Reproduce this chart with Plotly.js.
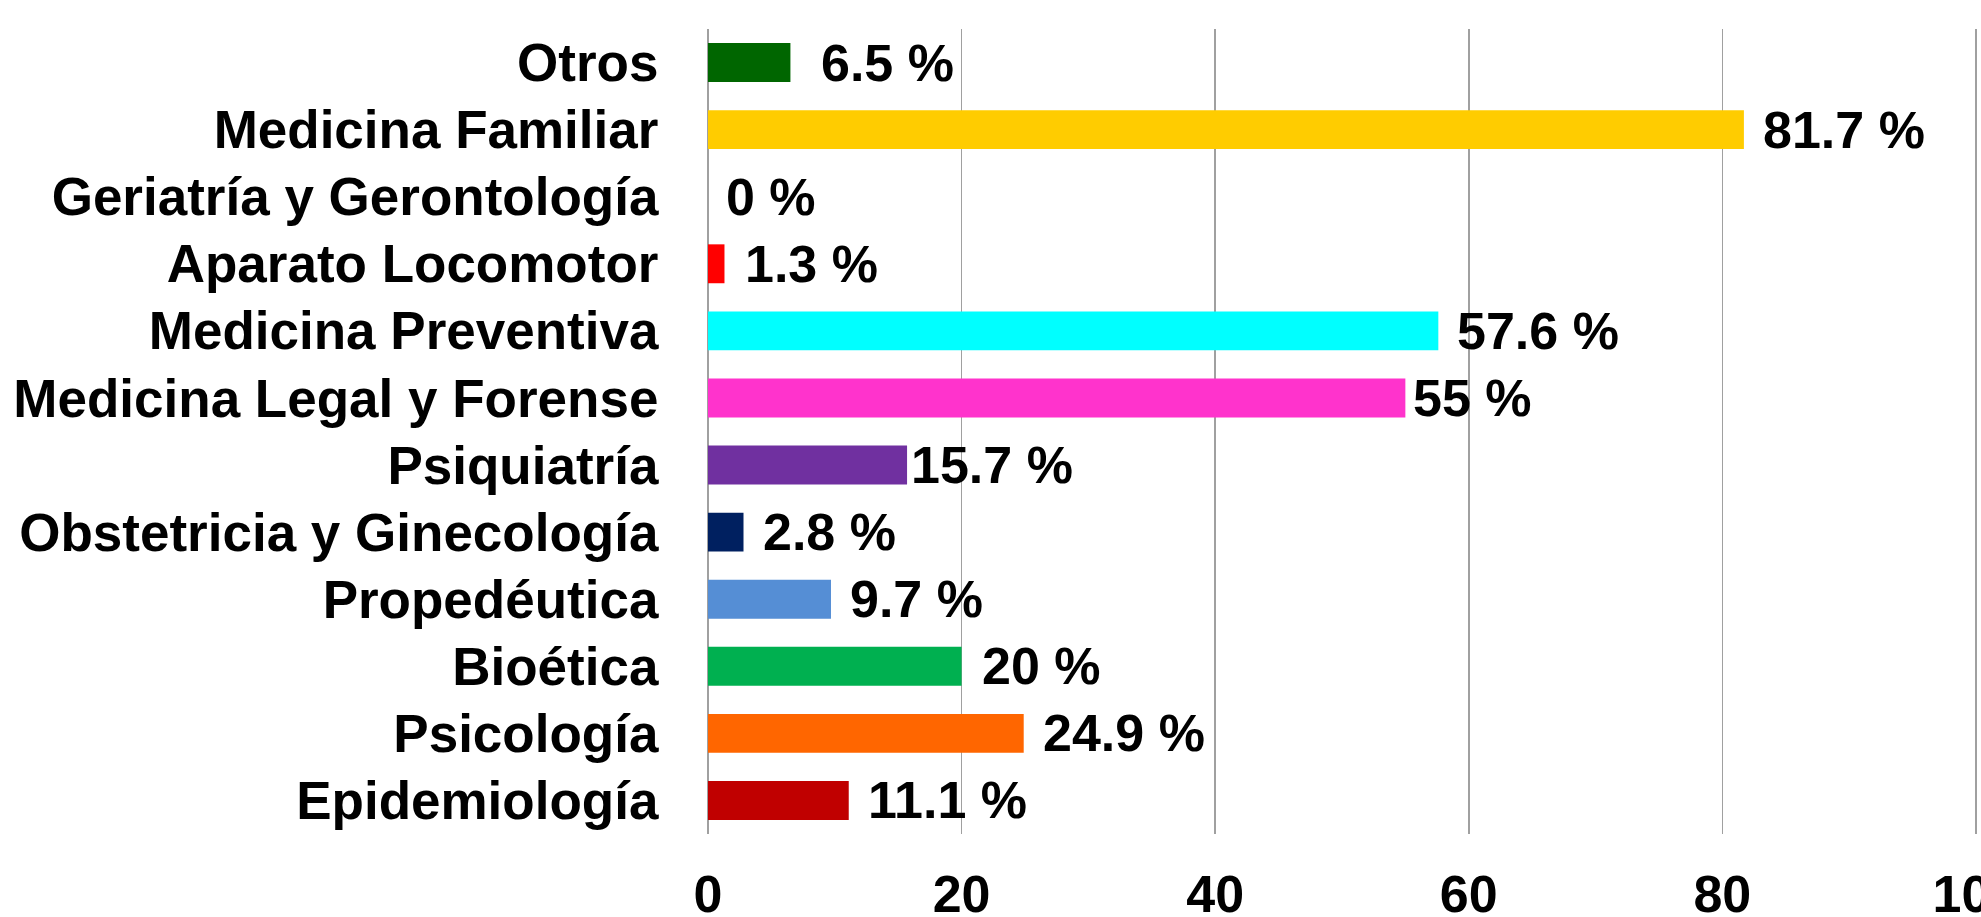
<!DOCTYPE html>
<html>
<head>
<meta charset="utf-8">
<script src="https://cdn.plot.ly/plotly-3.0.1.min.js"></script>
<style>html,body{margin:0;padding:0;background:#fff;}#chart{width:1981px;height:917px;}</style>
</head>
<body>
<div id="chart"></div>
<script>
// Categories listed bottom to top
const categories = [
  "Epidemiología",
  "Psicología",
  "Bioética",
  "Propedéutica",
  "Obstetricia y Ginecología",
  "Psiquiatría",
  "Medicina Legal y Forense",
  "Medicina Preventiva",
  "Aparato Locomotor",
  "Geriatría y Gerontología",
  "Medicina Familiar",
  "Otros"
];
const values = [11.1, 24.9, 20, 9.7, 2.8, 15.7, 55, 57.6, 1.3, 0, 81.7, 6.5];
const barColors = [
  "#C00000", "#FF6600", "#00B050", "#558ED5", "#002060", "#7030A0",
  "#FF33CC", "#00FFFF", "#FF0000", "#FFFFFF", "#FFCC00", "#006600"
];
// small horizontal nudges of the value labels (px), as in the original
const labelNudge = [17, 17, 18, 17, 17, 2, 6, 17, 19, 16, 17, 29];
const xTickVals = [0, 20, 40, 60, 80, 100];
const xTickText = ["0", "20", "40", "60", "80", "100"];

const font = {family: "Liberation Sans, Arial, sans-serif", size: 52, color: "#000"};
const catFont = {family: "Liberation Sans, Arial, sans-serif", size: 53, color: "#000"};

const trace = {
  type: "bar",
  orientation: "h",
  x: values,
  y: categories,
  marker: {color: barColors, line: {width: 0}},
  hoverinfo: "none"
};

const annotations = values.map((v, i) => ({
  x: v,
  y: categories[i],
  xref: "x",
  yref: "y",
  text: "<b>" + v + " %</b>",
  showarrow: false,
  xanchor: "left",
  yanchor: "middle",
  xshift: labelNudge[i],
  font: font
}));

const layout = {
  width: 1981,
  height: 917,
  margin: {l: 708, r: 0, t: 29, b: 83, pad: 0},
  paper_bgcolor: "#fff",
  plot_bgcolor: "#fff",
  showlegend: false,
  bargap: 0.42,
  font: font,
  xaxis: {
    range: [0, 100.4],
    tickvals: xTickVals,
    ticktext: xTickText.map(t => "<b>" + t + "</b>"),
    ticklabeloverflow: "allow",
    showgrid: true,
    gridcolor: "#a0a0a0",
    gridwidth: 1.5,
    zeroline: true,
    zerolinecolor: "#a0a0a0",
    zerolinewidth: 1.5,
    showline: false,
    ticks: "outside",
    ticklen: 15,
    tickcolor: "rgba(0,0,0,0)",
    tickfont: font,
    fixedrange: true
  },
  yaxis: {
    type: "category",
    categoryorder: "array",
    categoryarray: categories,
    tickvals: categories,
    ticktext: categories.map(c => "<b>" + c + "</b>"),
    showgrid: false,
    zeroline: false,
    showline: false,
    ticks: "outside",
    ticklen: 38,
    tickcolor: "rgba(0,0,0,0)",
    tickfont: catFont,
    fixedrange: true
  },
  annotations: annotations
};

Plotly.newPlot("chart", [trace], layout, {displayModeBar: false, staticPlot: true});
</script>
</body>
</html>
